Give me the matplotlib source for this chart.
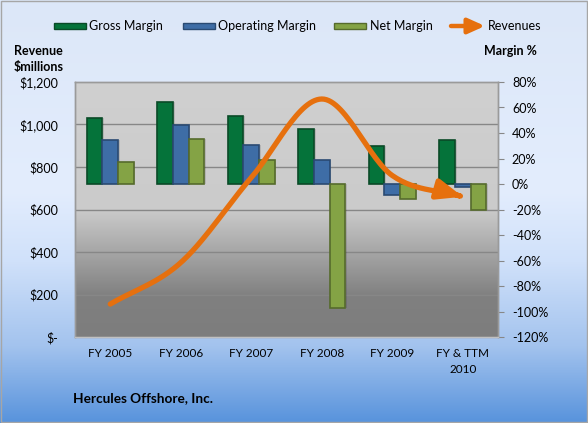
import numpy as np
import matplotlib.pyplot as plt
from matplotlib.colors import LinearSegmentedColormap
from matplotlib.patches import Rectangle, FancyArrowPatch
from matplotlib.path import Path

plt.rcParams['font.family'] = ['Lato', 'DejaVu Sans']

# data
years = ['FY 2005', 'FY 2006', 'FY 2007', 'FY 2008', 'FY 2009', 'FY & TTM\n2010']
gross_margin = [52, 64, 53, 43, 30, 34.5]
operating_margin = [34.5, 46, 30.5, 19, -9, -2.5]
net_margin = [17, 35, 19, -97, -12, -20.5]
revenues = [155, 350, 750, 1120, 760, 660]

rev_ticks = [0, 200, 400, 600, 800, 1000, 1200]
margin_ticks = list(range(-120, 81, 20))

W, H = 588, 423
fig = plt.figure(figsize=(W / 100, H / 100), dpi=100)

# figure background gradient
bg = fig.add_axes([0, 0, 1, 1], zorder=-10)
bg_cmap = LinearSegmentedColormap.from_list('bg', [
    (0.0, '#dce7f8'), (0.45, '#e3edfd'), (0.62, '#d0e1fa'),
    (0.82, '#a3c3ee'), (1.0, '#5893dc')])
bg.imshow(np.linspace(0, 1, 256).reshape(-1, 1), cmap=bg_cmap, aspect='auto',
          extent=[0, 1, 0, 1], transform=bg.transAxes)
bg.add_patch(Rectangle((0.001, 0.002), 0.997, 0.995, transform=bg.transAxes,
                       fill=False, edgecolor='#a6a6a6', lw=1))
bg.axis('off')

# plot area: margins (bars) underneath, revenue line on twin
x0, x1, ytop, ybot = 75, 498, 82, 337
ax = fig.add_axes([x0 / W, 1 - ybot / H, (x1 - x0) / W, (ybot - ytop) / H])
ax2 = ax.twinx()

pa_cmap = LinearSegmentedColormap.from_list('pa', [
    (0.0, '#d0d0d0'), (0.5, '#cbcbcb'), (0.84, '#808080'), (1.0, '#7d7d7d')])
ax.imshow(np.linspace(0, 1, 256).reshape(-1, 1), cmap=pa_cmap, aspect='auto',
          extent=[0, 1, 0, 1], transform=ax.transAxes, zorder=0)

n = len(years)
xs = np.arange(n)
bw = 0.22
ax.set_xlim(-0.5, n - 0.5)
ax.set_ylim(-120, 80)
ax2.set_ylim(0, 1200)

# gridlines follow the revenue axis
for r in rev_ticks[1:-1]:
    ax.axhline(-120 + r / 1200 * 200, color='#878787', lw=1, zorder=1)

series = [
    (gross_margin, '#05733a', '#0a4a27'),
    (operating_margin, '#3e6da6', '#2a4a72'),
    (net_margin, '#84a345', '#566b2c'),
]
for i, (vals, fc, ec) in enumerate(series):
    pos = xs + (i - 1) * bw
    # soft shadow
    ax.bar(pos + 0.025, vals, width=bw, color='#000000', alpha=0.12, zorder=2)
    ax.bar(pos, vals, width=bw, color=fc, edgecolor=ec, lw=1.2, zorder=3)

# smoothed revenue line with arrow head (Catmull-Rom through the points)
px = np.array(xs, dtype=float)
py = np.array(revenues, dtype=float)
ext_x = np.concatenate([[2 * px[0] - px[1]], px, [2 * px[-1] - px[-2]]])
ext_y = np.concatenate([[2 * py[0] - py[1]], py, [2 * py[-1] - py[-2]]])
cx, cy = [], []
for k in range(1, len(ext_x) - 2):
    t = np.linspace(0, 1, 30, endpoint=False)
    for arr, out in ((ext_x, cx), (ext_y, cy)):
        p0, p1, p2, p3 = arr[k - 1:k + 3]
        out.extend(0.5 * (2 * p1 + (-p0 + p2) * t + (2 * p0 - 5 * p1 + 4 * p2 - p3) * t ** 2
                          + (-p0 + 3 * p1 - 3 * p2 + p3) * t ** 3))
cx.append(px[-1])
cy.append(py[-1])
curve = Path(np.column_stack([cx, cy]))
arrow = FancyArrowPatch(path=curve, arrowstyle='-|>,head_length=1.5,head_width=0.6',
                        mutation_scale=10, color='#e6700e', lw=3.8,
                        transform=ax2.transData, zorder=5)
ax2.add_patch(arrow)

# axes styling
ax.set_xticks(xs)
ax.set_xticklabels(years, fontsize=8.5, linespacing=1.5)
ax.tick_params(axis='x', length=0, pad=8)
ax.yaxis.tick_right()
ax.set_yticks(margin_ticks)
ax.set_yticklabels([f'{v}%' for v in margin_ticks], fontsize=9)
ax.tick_params(axis='y', direction='out', length=4, color='#878787', pad=6)

ax2.yaxis.tick_left()
ax2.set_yticks(rev_ticks)
ax2.set_yticklabels(['$-' if v == 0 else f'${v:,}' for v in rev_ticks], fontsize=9)
ax2.tick_params(axis='y', length=0, pad=12)

for a in (ax, ax2):
    for s in a.spines.values():
        s.set_color('#9a9a9a')
        s.set_linewidth(1)
ax2.spines['bottom'].set_color('#c0c0c0')

# titles
fig.text(14 / W, 1 - 51 / H, 'Revenue', fontsize=9, fontweight='bold', va='center')
fig.text(14 / W, 1 - 67 / H, '$millions', fontsize=9, fontweight='bold', va='center')
fig.text(484 / W, 1 - 51 / H, 'Margin %', fontsize=9, fontweight='bold', va='center')
fig.text(73 / W, 1 - 398 / H, 'Hercules Offshore, Inc.', fontsize=9.8,
         fontweight='bold', va='center')

# legend
leg_y = 1 - 26 / H
for hx, tx, label, (_, fc, ec) in zip([54, 183, 334], [89, 218, 370],
                                       ['Gross Margin', 'Operating Margin', 'Net Margin'],
                                       series):
    fig.add_artist(Rectangle((hx / W, leg_y - 3 / H), 32 / W, 6 / H, transform=fig.transFigure,
                             facecolor=fc, edgecolor=ec, lw=1))
    fig.text(tx / W, leg_y, label, fontsize=9, va='center')
fig.add_artist(FancyArrowPatch((451 / W, leg_y), (485 / W, leg_y), transform=fig.transFigure,
                               arrowstyle='-|>,head_length=1.0,head_width=0.45', mutation_scale=10,
                               color='#e6700e', lw=3.2, shrinkA=0, shrinkB=0))
fig.text(488 / W, leg_y, 'Revenues', fontsize=9, va='center')

fig.savefig('out.png', dpi=100)
